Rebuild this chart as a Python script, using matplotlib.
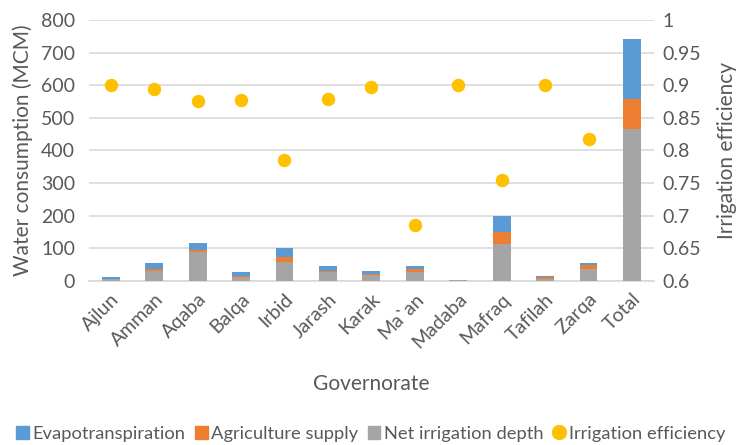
import matplotlib
matplotlib.use("Agg")
import matplotlib.pyplot as plt
import numpy as np
from matplotlib.lines import Line2D
from matplotlib.patches import Patch

governorates = ["Ajlun", "Amman", "Aqaba", "Balqa", "Irbid", "Jarash", "Karak",
                "Ma`an", "Madaba", "Mafraq", "Tafilah", "Zarqa", "Total"]
net_irrigation = [4, 30, 87, 12, 58, 27, 17, 28, 1, 113, 7, 37, 465]
agri_supply = [3, 5, 8, 4, 16, 4, 4, 9, 2, 38, 4, 10, 93]
evapotranspiration = [4, 20, 22, 12, 26, 15, 10, 9, 0, 49, 3, 8, 184]
efficiency = [0.900, 0.894, 0.876, 0.878, 0.785, 0.879, 0.898, 0.686, 0.900,
              0.754, 0.900, 0.817, None]

plt.rcParams['font.family'] = ['Lato', 'DejaVu Sans']
txt = "#595959"
grid_c = "#d9d9d9"

fig = plt.figure(figsize=(7.42, 4.45), dpi=100)
ax = fig.add_axes([0.12, 0.369, 0.761, 0.586])
ax2 = ax.twinx()

x = np.arange(len(governorates))
w = 0.41
net = np.array(net_irrigation)
agr = np.array(agri_supply)
eva = np.array(evapotranspiration)
ax.bar(x, net, w, color="#A5A5A5", zorder=3)
ax.bar(x, agr, w, bottom=net, color="#ED7D31", zorder=3)
ax.bar(x, eva, w, bottom=net + agr, color="#5B9BD5", zorder=3)

ex = [i for i, v in enumerate(efficiency) if v is not None]
ey = [v for v in efficiency if v is not None]
ax2.scatter(ex, ey, s=75, color="#FFC000", zorder=4)

ax.set_ylim(0, 800)
ax.set_yticks(range(0, 801, 100))
ax2.set_ylim(0.6, 1.0)
ax2.set_yticks([0.6, 0.65, 0.7, 0.75, 0.8, 0.85, 0.9, 0.95, 1.0])
ax2.set_yticklabels(["0.6", "0.65", "0.7", "0.75", "0.8", "0.85", "0.9", "0.95", "1"])
ax.set_xlim(-0.5, len(governorates) - 0.5)
ax.set_xticks(x)
ax.set_xticklabels(governorates, rotation=45, ha="right", rotation_mode="anchor")

ax.yaxis.grid(True, color=grid_c, linewidth=1.2, zorder=0)
ax.set_axisbelow(True)
for a in (ax, ax2):
    for s in a.spines.values():
        s.set_visible(False)
    a.tick_params(length=0, colors=txt, labelsize=14)
ax.spines['bottom'].set_visible(True)
ax.spines['bottom'].set_color(grid_c)
ax.spines['bottom'].set_linewidth(1.2)
ax.tick_params(axis='x', pad=7)
ax2.tick_params(axis='y', pad=6)
ax.tick_params(axis='y', pad=10)

ax.set_ylabel("Water consumption (MCM)", color=txt, fontsize=15, labelpad=6)
ax2.set_ylabel("Irrigation efficiency", color=txt, fontsize=15, labelpad=12)
ax.set_xlabel("Governorate", color=txt, fontsize=15, labelpad=16)

handles = [Patch(color="#5B9BD5"), Patch(color="#ED7D31"), Patch(color="#A5A5A5"),
           Line2D([], [], marker='o', color="#FFC000", linestyle='None', markersize=10)]
labels = ["Evapotranspiration", "Agriculture supply", "Net irrigation depth", "Irrigation efficiency"]
leg = fig.legend(handles, labels, loc="lower center", bbox_to_anchor=(0.5, -0.03), ncol=4,
                 frameon=False, fontsize=13.2, handlelength=0.7, handleheight=0.7,
                 handletextpad=0.2, columnspacing=0.5, labelcolor=txt)

fig.savefig("out.png", dpi=100)
